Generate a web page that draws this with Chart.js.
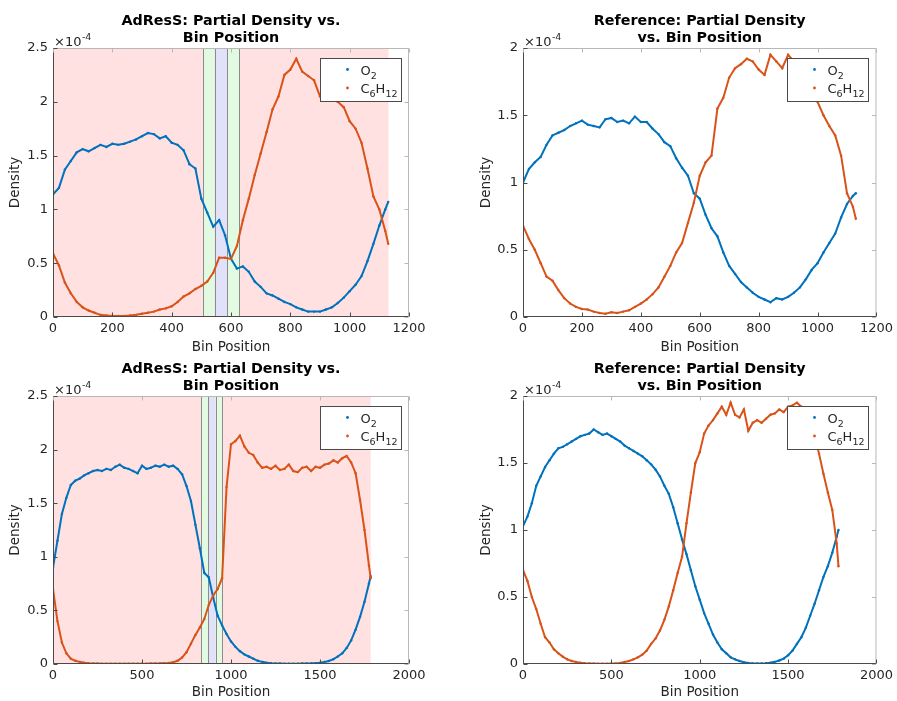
<!DOCTYPE html>
<html>
<head>
<meta charset="utf-8">
<script src="https://cdn.jsdelivr.net/npm/chart.js@4.4.0/dist/chart.umd.min.js"></script>
<style>
html, body { margin: 0; padding: 0; background: #fff; }
body { width: 897px; height: 701px; position: relative; overflow: hidden; }
canvas { position: absolute; }
</style>
</head>
<body>
<canvas id="adressTopChart" width="450" height="360" style="left:0;top:0"></canvas>
<canvas id="refTopChart" width="447" height="360" style="left:450px;top:0"></canvas>
<canvas id="adressBotChart" width="450" height="341" style="left:0;top:360px"></canvas>
<canvas id="refBotChart" width="447" height="341" style="left:450px;top:360px"></canvas>
<script>
// densities are in units of 1e-4 (axis multiplier shown as x10^-4)
const binsTop = [
  0, 20, 40, 60, 80, 100, 120, 140, 160, 180,
  200, 220, 240, 260, 280, 300, 320, 340, 360, 380,
  400, 420, 440, 460, 480, 500, 520, 540, 560, 580,
  600, 620, 640, 660, 680, 700, 720, 740, 760, 780,
  800, 820, 840, 860, 880, 900, 920, 940, 960, 980,
  1000, 1020, 1040, 1060, 1080, 1100, 1120, 1130
];
const adressTopO2 = [
  1.14, 1.20, 1.37, 1.45, 1.53, 1.56, 1.54, 1.57, 1.60, 1.58,
  1.61, 1.60, 1.61, 1.63, 1.65, 1.68, 1.71, 1.70, 1.66, 1.68,
  1.62, 1.60, 1.55, 1.42, 1.38, 1.10, 0.97, 0.84, 0.90, 0.76,
  0.54, 0.45, 0.47, 0.42, 0.33, 0.28, 0.22, 0.20, 0.17, 0.14,
  0.12, 0.09, 0.07, 0.05, 0.05, 0.05, 0.07, 0.09, 0.13, 0.18,
  0.24, 0.30, 0.38, 0.52, 0.68, 0.85, 1.00, 1.07
];
const adressTopC6H12 = [
  0.59, 0.48, 0.32, 0.22, 0.14, 0.09, 0.06, 0.04, 0.02, 0.015,
  0.01, 0.01, 0.01, 0.015, 0.02, 0.03, 0.04, 0.05, 0.07, 0.08,
  0.10, 0.14, 0.19, 0.22, 0.26, 0.29, 0.33, 0.41, 0.55, 0.55,
  0.54, 0.66, 0.90, 1.10, 1.32, 1.52, 1.72, 1.93, 2.05, 2.25,
  2.30, 2.40, 2.28, 2.24, 2.20, 2.05, 2.05, 2.02, 2.00, 1.95,
  1.82, 1.75, 1.62, 1.38, 1.12, 1.00, 0.80, 0.68
];
const refTopO2 = [
  1.00, 1.10, 1.15, 1.19, 1.28, 1.35, 1.37, 1.39, 1.42, 1.44,
  1.46, 1.43, 1.42, 1.41, 1.47, 1.48, 1.45, 1.46, 1.44, 1.49,
  1.45, 1.45, 1.40, 1.36, 1.30, 1.27, 1.18, 1.11, 1.05, 0.92,
  0.88, 0.76, 0.66, 0.60, 0.48, 0.38, 0.32, 0.26, 0.22, 0.18,
  0.15, 0.13, 0.11, 0.14, 0.13, 0.15, 0.18, 0.22, 0.28, 0.35,
  0.40, 0.48, 0.55, 0.62, 0.74, 0.84, 0.90, 0.92
];
const refTopC6H12 = [
  0.68, 0.58, 0.50, 0.40, 0.30, 0.27, 0.20, 0.14, 0.10, 0.075,
  0.06, 0.055, 0.04, 0.03, 0.025, 0.035, 0.03, 0.04, 0.05, 0.075,
  0.10, 0.13, 0.17, 0.22, 0.30, 0.38, 0.48, 0.55, 0.70, 0.85,
  1.05, 1.15, 1.20, 1.55, 1.63, 1.78, 1.85, 1.88, 1.92, 1.90,
  1.84, 1.80, 1.95, 1.90, 1.85, 1.95, 1.90, 1.87, 1.82, 1.72,
  1.60, 1.50, 1.42, 1.35, 1.20, 0.92, 0.82, 0.73
];

const binsBot = [
  0, 25, 50, 75, 100, 125, 150, 175, 200, 225,
  250, 275, 300, 325, 350, 375, 400, 425, 450, 475,
  500, 525, 550, 575, 600, 625, 650, 675, 700, 725,
  750, 775, 800, 825, 850, 875, 900, 925, 950, 975,
  1000, 1025, 1050, 1075, 1100, 1125, 1150, 1175, 1200, 1225,
  1250, 1275, 1300, 1325, 1350, 1375, 1400, 1425, 1450, 1475,
  1500, 1525, 1550, 1575, 1600, 1625, 1650, 1675, 1700, 1725,
  1750, 1775, 1785
];
const adressBotO2 = [
  0.90, 1.15, 1.40, 1.55, 1.67, 1.71, 1.73, 1.76, 1.78, 1.80,
  1.81, 1.80, 1.82, 1.81, 1.84, 1.86, 1.83, 1.82, 1.80, 1.78,
  1.85, 1.82, 1.83, 1.85, 1.84, 1.86, 1.84, 1.85, 1.82, 1.77,
  1.66, 1.52, 1.30, 1.08, 0.85, 0.81, 0.62, 0.45, 0.36, 0.28,
  0.21, 0.16, 0.12, 0.09, 0.07, 0.05, 0.03, 0.02, 0.012, 0.008,
  0.005, 0.004, 0.003, 0.003, 0.003, 0.003, 0.004, 0.005, 0.006, 0.008,
  0.012, 0.018, 0.028, 0.045, 0.07, 0.10, 0.15, 0.22, 0.32, 0.44,
  0.58, 0.75, 0.82
];
const adressBotC6H12 = [
  0.70, 0.40, 0.20, 0.10, 0.05, 0.03, 0.02, 0.012, 0.008, 0.005,
  0.004, 0.003, 0.003, 0.003, 0.003, 0.003, 0.003, 0.003, 0.003, 0.003,
  0.003, 0.003, 0.004, 0.005, 0.006, 0.008, 0.01, 0.016, 0.03, 0.06,
  0.11, 0.19, 0.27, 0.34, 0.42, 0.55, 0.64, 0.70, 0.80, 1.65,
  2.05, 2.08, 2.13, 2.03, 1.97, 1.95, 1.88, 1.83, 1.84, 1.82,
  1.85, 1.81, 1.82, 1.86, 1.80, 1.79, 1.83, 1.84, 1.80, 1.84,
  1.83, 1.86, 1.87, 1.90, 1.88, 1.92, 1.94, 1.88, 1.78, 1.53,
  1.25, 0.92, 0.80
];
const refBotO2 = [
  1.03, 1.10, 1.20, 1.33, 1.40, 1.47, 1.52, 1.57, 1.61, 1.62,
  1.64, 1.66, 1.68, 1.70, 1.71, 1.72, 1.75, 1.73, 1.71, 1.72,
  1.70, 1.68, 1.66, 1.63, 1.61, 1.59, 1.57, 1.55, 1.52, 1.49,
  1.45, 1.40, 1.33, 1.27, 1.17, 1.05, 0.93, 0.82, 0.70, 0.58,
  0.48, 0.38, 0.30, 0.22, 0.16, 0.11, 0.08, 0.05, 0.035, 0.022,
  0.013, 0.008, 0.005, 0.004, 0.004, 0.006, 0.01, 0.016, 0.026, 0.04,
  0.065, 0.10, 0.15, 0.20, 0.27, 0.36, 0.45, 0.55, 0.65, 0.73,
  0.83, 0.95, 1.00
];
const refBotC6H12 = [
  0.70, 0.62, 0.50, 0.41, 0.30, 0.20, 0.16, 0.11, 0.08, 0.055,
  0.035, 0.022, 0.015, 0.01, 0.006, 0.004, 0.003, 0.002, 0.002, 0.002,
  0.003, 0.004, 0.008, 0.015, 0.022, 0.035, 0.05, 0.07, 0.10, 0.15,
  0.19, 0.25, 0.33, 0.43, 0.55, 0.68, 0.80, 1.05, 1.28, 1.50,
  1.58, 1.72, 1.78, 1.82, 1.87, 1.92, 1.86, 1.95, 1.86, 1.84,
  1.90, 1.74, 1.80, 1.82, 1.80, 1.83, 1.86, 1.87, 1.90, 1.88,
  1.92, 1.93, 1.95, 1.92, 1.88, 1.80, 1.70, 1.57, 1.42, 1.28,
  1.15, 0.90, 0.73
];

// AdResS region boundaries (bin positions): hybrid / explicit / hybrid, pink = coarse region end
const zonesTop = [505, 545, 588, 627];
const zonesTopEnd = 1131;
const zonesBot = [834, 873, 914, 951];
const zonesBotEnd = 1785;

const FONT = "'DejaVu Sans', sans-serif";
const BLUE = '#0072BD';
const ORANGE = '#D95319';

function toPoints(xs, ys) {
    return xs.map((x, i) => ({ x: x, y: ys[i] }));
}

function panelPlugin(p) {
    return {
        id: 'panel',
        beforeDatasetsDraw(chart) {
            if (!p.zones) return;
            const { ctx, chartArea: a, scales: { x } } = chart;
            const px = v => x.getPixelForValue(v);
            const h = a.bottom - a.top;
            ctx.save();
            ctx.fillStyle = '#ffe1e1';
            ctx.fillRect(a.left, a.top, px(p.zonesEnd) - a.left, h);
            const fills = ['#e1fae1', '#e1e1fa', '#e1fae1'];
            for (let i = 0; i < 3; i++) {
                ctx.fillStyle = fills[i];
                ctx.fillRect(px(p.zones[i]), a.top, px(p.zones[i + 1]) - px(p.zones[i]), h);
            }
            ctx.strokeStyle = '#8c8c8c';
            ctx.lineWidth = 1;
            p.zones.forEach(v => {
                const xx = Math.round(px(v)) + 0.5;
                ctx.beginPath();
                ctx.moveTo(xx, a.top);
                ctx.lineTo(xx, a.bottom);
                ctx.stroke();
            });
            ctx.restore();
        },
        afterDraw(chart) {
            const { ctx, chartArea: a, scales: { x, y } } = chart;
            const L = a.left + 0.5, R = a.right - 0.5, T = a.top + 0.5, B = a.bottom - 0.5;
            ctx.save();
            // box: top/right light, left/bottom dark
            ctx.lineWidth = 1;
            ctx.strokeStyle = '#b8b8b8';
            ctx.beginPath();
            ctx.moveTo(L, T); ctx.lineTo(R, T); ctx.lineTo(R, B);
            ctx.stroke();
            ctx.strokeStyle = '#4a4a4a';
            ctx.beginPath();
            ctx.moveTo(L, T); ctx.lineTo(L, B); ctx.lineTo(R, B);
            ctx.stroke();
            // inward ticks
            const tl = 4;
            x.ticks.forEach(t => {
                const xx = Math.round(x.getPixelForValue(t.value)) + 0.5;
                ctx.strokeStyle = '#4a4a4a';
                ctx.beginPath(); ctx.moveTo(xx, B); ctx.lineTo(xx, B - tl); ctx.stroke();
                ctx.strokeStyle = '#b8b8b8';
                ctx.beginPath(); ctx.moveTo(xx, T); ctx.lineTo(xx, T + tl); ctx.stroke();
            });
            y.ticks.forEach(t => {
                const yy = Math.round(y.getPixelForValue(t.value)) + 0.5;
                ctx.strokeStyle = '#4a4a4a';
                ctx.beginPath(); ctx.moveTo(L, yy); ctx.lineTo(L + tl, yy); ctx.stroke();
                ctx.strokeStyle = '#b8b8b8';
                ctx.beginPath(); ctx.moveTo(R, yy); ctx.lineTo(R - tl, yy); ctx.stroke();
            });

            // exponent label
            ctx.fillStyle = '#262626';
            ctx.textBaseline = 'alphabetic';
            ctx.textAlign = 'left';
            ctx.font = '13px ' + FONT;
            ctx.fillText('\u00d710', a.left + 1, a.top - 2);
            const w10 = ctx.measureText('\u00d710').width;
            ctx.font = '9.5px ' + FONT;
            ctx.fillText('-4', a.left + 1 + w10 + 0.5, a.top - 8);

            // title
            ctx.fillStyle = '#000';
            ctx.textAlign = 'center';
            ctx.textBaseline = 'middle';
            ctx.font = 'bold 14.3px ' + FONT;
            const cx = (a.left + a.right) / 2;
            ctx.fillText(p.title[0], cx, a.top - 27);
            ctx.fillText(p.title[1], cx, a.top - 10);

            // legend
            const bw = 81, bh = 43;
            const bx = Math.round(a.right - 8 - bw) + 0.5, by = Math.round(a.top + 10) + 0.5;
            ctx.fillStyle = '#fff';
            ctx.fillRect(bx, by, bw, bh);
            ctx.strokeStyle = '#4a4a4a';
            ctx.strokeRect(bx, by, bw, bh);
            const rows = [
                { color: BLUE, parts: [['O', 0], ['2', 1]] },
                { color: ORANGE, parts: [['C', 0], ['6', 1], ['H', 0], ['12', 1]] }
            ];
            rows.forEach((r, i) => {
                const ry = by + 11 + i * 18.5;
                ctx.fillStyle = r.color;
                ctx.beginPath();
                ctx.arc(bx + 27, ry, 1.4, 0, Math.PI * 2);
                ctx.fill();
                ctx.fillStyle = '#262626';
                ctx.textAlign = 'left';
                ctx.textBaseline = 'alphabetic';
                let tx = bx + 40;
                r.parts.forEach(([s, sub]) => {
                    ctx.font = (sub ? '9.5px ' : '13px ') + FONT;
                    ctx.fillText(s, tx, ry + 5 + (sub ? 4 : 0));
                    tx += ctx.measureText(s).width;
                });
            });
            ctx.restore();
        }
    };
}

function makePanel(id, opts) {
    const canvas = document.getElementById(id);
    const W = canvas.width, H = canvas.height;
    const area = opts.area; // [left, top, right, bottom] in canvas px
    new Chart(canvas, {
        type: 'scatter',
        data: {
            datasets: [
                {
                    label: 'O2',
                    data: toPoints(opts.bins, opts.o2),
                    showLine: true,
                    borderColor: BLUE,
                    backgroundColor: BLUE,
                    borderWidth: 2,
                    pointRadius: 1.2,
                    pointBorderWidth: 0,
                    order: 1
                },
                {
                    label: 'C6H12',
                    data: toPoints(opts.bins, opts.c6h12),
                    showLine: true,
                    borderColor: ORANGE,
                    backgroundColor: ORANGE,
                    borderWidth: 2,
                    pointRadius: 1.2,
                    pointBorderWidth: 0,
                    order: 0
                }
            ]
        },
        options: {
            responsive: false,
            animation: false,
            layout: {
                padding: { left: opts.padLeft, top: area[1], right: W - area[2], bottom: 0 }
            },
            plugins: {
                legend: { display: false },
                tooltip: { enabled: false },
                title: { display: false }
            },
            scales: {
                x: {
                    type: 'linear',
                    min: 0,
                    max: opts.xMax,
                    grid: { display: false, drawTicks: false },
                    border: { display: false },
                    ticks: {
                        stepSize: opts.xStep,
                        padding: 4,
                        color: '#262626',
                        font: { family: FONT, size: 13 },
                        maxRotation: 0,
                        callback: v => String(v)
                    },
                    title: {
                        display: true,
                        text: 'Bin Position',
                        color: '#262626',
                        font: { family: FONT, size: 13.5 },
                        padding: { top: 0, bottom: opts.xTitlePad }
                    },
                    afterFit: s => { s.height = H - area[3]; }
                },
                y: {
                    min: 0,
                    max: opts.yMax,
                    grid: { display: false, drawTicks: false },
                    border: { display: false },
                    ticks: {
                        stepSize: 0.5,
                        padding: 5,
                        color: '#262626',
                        font: { family: FONT, size: 13 },
                        callback: v => String(v)
                    },
                    title: {
                        display: true,
                        text: 'Density',
                        color: '#262626',
                        font: { family: FONT, size: 13.5 },
                        padding: { top: 7, bottom: 0 }
                    },
                    afterFit: s => { s.width = area[0] - opts.padLeft; }
                }
            }
        },
        plugins: [panelPlugin(opts)]
    });
}

makePanel('adressTopChart', {
    bins: binsTop, o2: adressTopO2, c6h12: adressTopC6H12,
    area: [53, 48, 409, 317], padLeft: 0, xMax: 1200, xStep: 200, yMax: 2.5, xTitlePad: 4,
    title: ['AdResS: Partial Density vs.', 'Bin Position'],
    zones: zonesTop, zonesEnd: zonesTopEnd
});
makePanel('refTopChart', {
    bins: binsTop, o2: refTopO2, c6h12: refTopC6H12,
    area: [73, 48, 431, 317], padLeft: 21, xMax: 1200, xStep: 200, yMax: 2, xTitlePad: 4,
    title: ['Reference: Partial Density', 'vs. Bin Position']
});
makePanel('adressBotChart', {
    bins: binsBot, o2: adressBotO2, c6h12: adressBotC6H12,
    area: [53, 36, 409, 304], padLeft: 0, xMax: 2000, xStep: 500, yMax: 2.5, xTitlePad: 0,
    title: ['AdResS: Partial Density vs.', 'Bin Position'],
    zones: zonesBot, zonesEnd: zonesBotEnd
});
makePanel('refBotChart', {
    bins: binsBot, o2: refBotO2, c6h12: refBotC6H12,
    area: [73, 36, 431, 304], padLeft: 21, xMax: 2000, xStep: 500, yMax: 2, xTitlePad: 0,
    title: ['Reference: Partial Density', 'vs. Bin Position']
});
</script>
</body>
</html>
